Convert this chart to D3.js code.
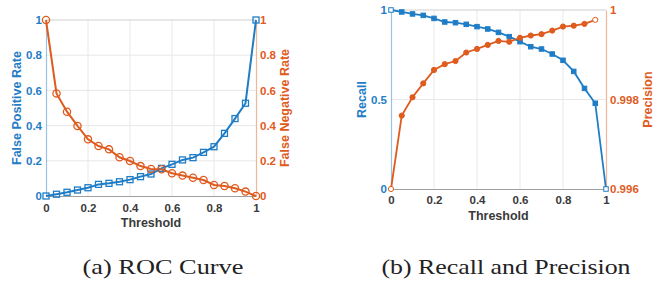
<!DOCTYPE html>
<html><head><meta charset="utf-8">
<script src="https://cdn.jsdelivr.net/npm/d3@7"></script>
<style>
html,body{margin:0;padding:0;background:#fff;}
svg{display:block;}
</style></head>
<body>
<svg id="c" width="667" height="285"></svg>
<script>
// ---- data ----
const thresholds = [0,0.05,0.1,0.15,0.2,0.25,0.3,0.35,0.4,0.45,0.5,0.55,0.6,0.65,0.7,0.75,0.8,0.85,0.9,0.95,1];
const falsePositiveRate = [0,0.01,0.021,0.034,0.047,0.066,0.072,0.081,0.093,0.11,0.125,0.157,0.18,0.205,0.218,0.248,0.28,0.356,0.44,0.527,1.0];
const falseNegativeRate = [1.0,0.583,0.479,0.398,0.322,0.284,0.265,0.22,0.199,0.17,0.153,0.152,0.129,0.116,0.104,0.091,0.0625,0.057,0.044,0.025,0];
const recall = [1.0,0.989,0.978,0.97,0.953,0.933,0.929,0.92,0.907,0.894,0.875,0.851,0.823,0.795,0.782,0.754,0.719,0.657,0.562,0.479,0];
const precision = [0.996,0.99764,0.99805,0.99836,0.99866,0.99879,0.99886,0.99905,0.99913,0.99922,0.99931,0.99929,0.99938,0.99943,0.99946,0.99954,0.99963,0.99965,0.99969,0.99978];
const xTicks = [0,0.2,0.4,0.6,0.8,1];
const xTickLabels = ["0","0.2","0.4","0.6","0.8","1"];
const rateTicks = [0,0.2,0.4,0.6,0.8,1];
const rateTickLabels = ["0","0.2","0.4","0.6","0.8","1"];
const recallTicks = [0,0.5,1];
const recallTickLabels = ["0","0.5","1"];
const precisionTicks = [0.996,0.998,1];
const precisionTickLabels = ["0.996","0.998","1"];
const captions = ["(a) ROC Curve","(b) Recall and Precision"];

// ---- style ----
const BLUE = "#1f7dc6", ORANGE = "#df5b1e", GRID = "#e8e8e8", FONT = "'Liberation Sans', Arial, sans-serif";
const svg = d3.select("#c");

function panel(o){
  const g = svg.append("g");
  const x = d3.scaleLinear().domain([0,1]).range([o.x0,o.x1]);
  const yL = d3.scaleLinear().domain(o.lDomain).range([o.y0,o.y1]);
  const yR = d3.scaleLinear().domain(o.rDomain).range([o.y0,o.y1]);
  // grid
  g.append("g").selectAll("line").data(xTicks.slice(1,-1)).join("line")
    .attr("x1",d=>x(d)).attr("x2",d=>x(d)).attr("y1",o.y0).attr("y2",o.y1)
    .attr("stroke",GRID).attr("stroke-width",1);
  g.append("g").selectAll("line").data(o.lTicks.slice(1,-1)).join("line")
    .attr("x1",o.x0).attr("x2",o.x1).attr("y1",d=>yL(d)).attr("y2",d=>yL(d))
    .attr("stroke",GRID).attr("stroke-width",1);
  // top box line
  g.append("line").attr("x1",o.x0).attr("x2",o.x1).attr("y1",o.y1).attr("y2",o.y1)
    .attr("stroke","#cfcfcf").attr("stroke-width",1.2);
  // x axis
  const xa = g.append("g").attr("transform",`translate(0,${o.y0})`)
    .call(d3.axisBottom(x).tickValues(xTicks).tickFormat((d,i)=>xTickLabels[i]).tickSize(0).tickPadding(o.xPad));
  xa.select(".domain").attr("stroke","#a0a0a0").attr("stroke-width",1.2);
  xa.selectAll("text").attr("fill","#3a3a3a").attr("font-family",FONT).attr("font-weight","bold").attr("font-size",11.5);
  // left axis
  const la = g.append("g").attr("transform",`translate(${o.x0},0)`)
    .call(d3.axisLeft(yL).tickValues(o.lTicks).tickFormat((d,i)=>o.lLabels[i]).tickSize(0).tickPadding(4));
  la.select(".domain").attr("stroke",BLUE).attr("stroke-opacity",0.45).attr("stroke-width",1.2);
  la.selectAll("text").attr("fill",BLUE).attr("font-family",FONT).attr("font-weight","bold").attr("font-size",11.5);
  // right axis
  const ra = g.append("g").attr("transform",`translate(${o.x1},0)`)
    .call(d3.axisRight(yR).tickValues(o.rTicks).tickFormat((d,i)=>o.rLabels[i]).tickSize(0).tickPadding(4));
  ra.select(".domain").attr("stroke",ORANGE).attr("stroke-opacity",0.45).attr("stroke-width",1.2);
  ra.selectAll("text").attr("fill",ORANGE).attr("font-family",FONT).attr("font-weight","bold").attr("font-size",11.5);
  // axis titles
  g.append("text").attr("x",(o.x0+o.x1)/2).attr("y",o.xLabelY).attr("text-anchor","middle")
    .attr("font-family",FONT).attr("font-weight","bold").attr("font-size",12.5).attr("fill","#3a3a3a").text("Threshold");
  g.append("text").attr("transform",`translate(${o.lLabelX},${(o.y0+o.y1)/2}) rotate(-90)`).attr("dy","0.35em")
    .attr("text-anchor","middle").attr("font-family",FONT).attr("font-weight","bold").attr("font-size",12.5)
    .attr("fill",BLUE).text(o.lTitle);
  g.append("text").attr("transform",`translate(${o.rLabelX},${(o.y0+o.y1)/2}) rotate(-90)`).attr("dy","0.35em")
    .attr("text-anchor","middle").attr("font-family",FONT).attr("font-weight","bold").attr("font-size",12.5)
    .attr("fill",ORANGE).text(o.rTitle);
  // series
  const lData = o.lValues.map((v,i)=>[thresholds[i],v]);
  const rData = o.rValues.map((v,i)=>[thresholds[i],v]);
  g.append("path").datum(lData).attr("fill","none").attr("stroke",BLUE).attr("stroke-width",o.lw)
    .attr("d",d3.line().x(d=>x(d[0])).y(d=>yL(d[1])));
  g.append("path").datum(rData).attr("fill","none").attr("stroke",ORANGE).attr("stroke-width",o.lw)
    .attr("d",d3.line().x(d=>x(d[0])).y(d=>yR(d[1])));
  const s = o.sq;
  g.append("g").selectAll("rect").data(lData).join("rect")
    .attr("x",d=>x(d[0])-s/2).attr("y",d=>yL(d[1])-s/2).attr("width",s).attr("height",s)
    .attr("fill",o.filled?BLUE:"none").attr("stroke",BLUE).attr("stroke-width",o.mw);
  g.append("g").selectAll("circle").data(rData).join("circle")
    .attr("cx",d=>x(d[0])).attr("cy",d=>yR(d[1])).attr("r",o.cr)
    .attr("fill",o.filled?ORANGE:"none").attr("stroke",ORANGE).attr("stroke-width",o.mw);
  // endpoints hollow in filled panel
  if(o.filled){
    g.selectAll("rect").filter((d,i,n)=>i===0||i===n.length-1).attr("fill","#fff");
    g.selectAll("circle").filter((d,i,n)=>i===0||i===n.length-1).attr("fill","#fff");
  }
  // caption
  g.append("text").attr("x",o.capX).attr("y",273.5).attr("text-anchor","middle")
    .attr("font-family","'Liberation Serif','Times New Roman',serif").attr("font-size",22)
    .attr("fill","#222").attr("textLength",o.capW).attr("lengthAdjust","spacingAndGlyphs").text(o.caption);
}

panel({x0:46,x1:256,y0:196,y1:20,lDomain:[0,1],rDomain:[0,1],
  lTicks:rateTicks,lLabels:rateTickLabels,rTicks:rateTicks,rLabels:rateTickLabels,
  lValues:falsePositiveRate,rValues:falseNegativeRate,
  lTitle:"False Positive Rate",rTitle:"False Negative Rate",lLabelX:17,rLabelX:285,
  xPad:8,xLabelY:226.5,lw:2,mw:1.3,sq:6,cr:3.6,filled:false,
  caption:captions[0],capX:163,capW:161});

panel({x0:391,x1:606,y0:189,y1:10,lDomain:[0,1],rDomain:[0.996,1],
  lTicks:recallTicks,lLabels:recallTickLabels,rTicks:precisionTicks,rLabels:precisionTickLabels,
  lValues:recall,rValues:precision,
  lTitle:"Recall",rTitle:"Precision",lLabelX:361.5,rLabelX:648,
  xPad:7,xLabelY:219.5,lw:1.8,mw:1,sq:4.5,cr:2.6,filled:true,
  caption:captions[1],capX:506,capW:249});
</script>
</body></html>
